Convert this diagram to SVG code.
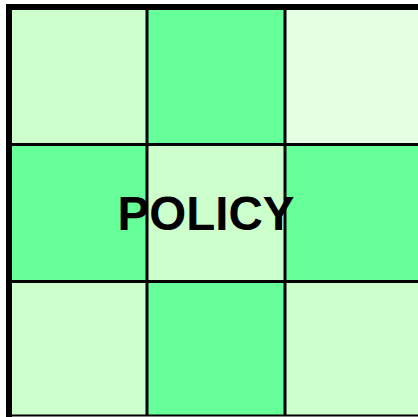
<svg xmlns="http://www.w3.org/2000/svg" width="418" height="417" viewBox="0 0 418 417">
<style>
.l{fill:#ccffcc}.m{fill:#66ff99}.v{fill:#e5ffe5}
.ln{stroke:#000;stroke-width:3;fill:none}
.t{font-family:"Liberation Sans",Arial,sans-serif;font-weight:bold;font-size:47.5px;fill:#000}
</style>
<rect width="418" height="417" fill="#ffffff"/>
<g id="cell-r1c1"><rect class="l" x="12" y="10" width="135" height="134"/></g>
<g id="cell-r1c2"><rect class="m" x="147" y="10" width="138" height="134"/></g>
<g id="cell-r1c3"><rect class="v" x="285" y="10" width="133" height="134"/></g>
<g id="cell-r2c1"><rect class="m" x="12" y="144" width="135" height="137"/></g>
<g id="cell-r2c2"><rect class="l" x="147" y="144" width="138" height="137"/></g>
<g id="cell-r2c3"><rect class="m" x="285" y="144" width="133" height="137"/></g>
<g id="cell-r3c1"><rect class="l" x="12" y="281" width="135" height="134"/></g>
<g id="cell-r3c2"><rect class="m" x="147" y="281" width="138" height="134"/></g>
<g id="cell-r3c3"><rect class="l" x="285" y="281" width="133" height="134"/></g>
<g id="grid-lines">
<line class="ln" x1="147" y1="10" x2="147" y2="416"/>
<line class="ln" x1="285" y1="10" x2="285" y2="416"/>
<line class="ln" x1="12" y1="144.5" x2="418" y2="144.5"/>
<line class="ln" x1="12" y1="281.5" x2="418" y2="281.5"/>
<rect x="6" y="4" width="412" height="6" fill="#000"/>
<rect x="6" y="4" width="6" height="413" fill="#000"/>
<rect x="6" y="414.5" width="412" height="2" fill="#000"/>
</g>
<g id="label"><text class="t" x="206" y="229.5" text-anchor="middle">POLICY</text></g>
</svg>
